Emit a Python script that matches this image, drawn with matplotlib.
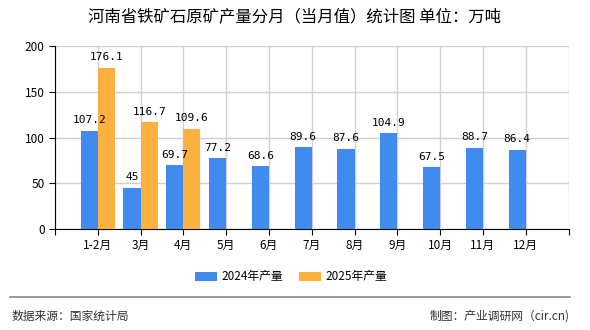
import numpy as np
import matplotlib.pyplot as plt

plt.rcParams['font.family'] = ['Noto Sans CJK SC', 'DejaVu Sans']

months = ['1-2月', '3月', '4月', '5月', '6月', '7月', '8月', '9月', '10月', '11月', '12月']
y2024 = [107.2, 45, 69.7, 77.2, 68.6, 89.6, 87.6, 104.9, 67.5, 88.7, 86.4]
y2025 = [176.1, 116.7, 109.6]

c24 = '#418bee'
c25 = '#fbb13f'

fig = plt.figure(figsize=(5.9, 3.3), dpi=100)
ax = fig.add_axes([0.0932, 0.306, 0.8704, 0.5546])

x = np.arange(len(months))
x25 = np.arange(len(y2025))
w = 0.4
b1 = ax.bar(x - w / 2, y2024, w, color=c24, label='2024年产量', zorder=3)
b2 = ax.bar(x25 + w / 2, y2025, w, color=c25, label='2025年产量', zorder=3)

for xi, v in zip(x - w / 2, y2024):
    ax.text(xi, v + 6, f'{v:g}', ha='center', va='bottom', fontsize=8,
            family='DejaVu Sans Mono')
for xi, v in zip(x25 + w / 2, y2025):
    ax.text(xi, v + 6, f'{v:g}', ha='center', va='bottom', fontsize=8,
            family='DejaVu Sans Mono')

ax.set_xlim(-1, len(months))
ax.set_ylim(0, 200)
ax.set_yticks([0, 50, 100, 150, 200])
ax.set_xticks(np.arange(-1, len(months) + 1))
ax.set_xticklabels([''] + months + [''])
ax.tick_params(axis='both', labelsize=8.5, length=4, direction='out', color='black')
ax.grid(True, color='#d0d0d0', linewidth=1, zorder=0)
for s in ['top', 'right']:
    ax.spines[s].set_visible(False)
ax.spines['left'].set_color('black')
ax.spines['bottom'].set_color('black')

fig.text(0.5, 0.948, '河南省铁矿石原矿产量分月（当月值）统计图 单位：万吨',
         ha='center', va='center', fontsize=11.8)

fig.legend(handles=[b1, b2], loc='center', bbox_to_anchor=(0.494, 0.161), ncol=2,
           frameon=False, fontsize=8.5, handlelength=1.85, handleheight=0.8,
           columnspacing=1.35, handletextpad=0.4)

fig.add_artist(plt.Line2D([0.017, 0.966], [0.1, 0.1], color='#888888', lw=1.2))
fig.text(0.02, 0.042, '数据来源：国家统计局', ha='left', va='center', fontsize=8.5, color='#333333')
fig.text(0.966, 0.042, '制图：产业调研网（cir.cn)', ha='right', va='center', fontsize=8.5, color='#333333')

fig.savefig('out.png', dpi=100)
